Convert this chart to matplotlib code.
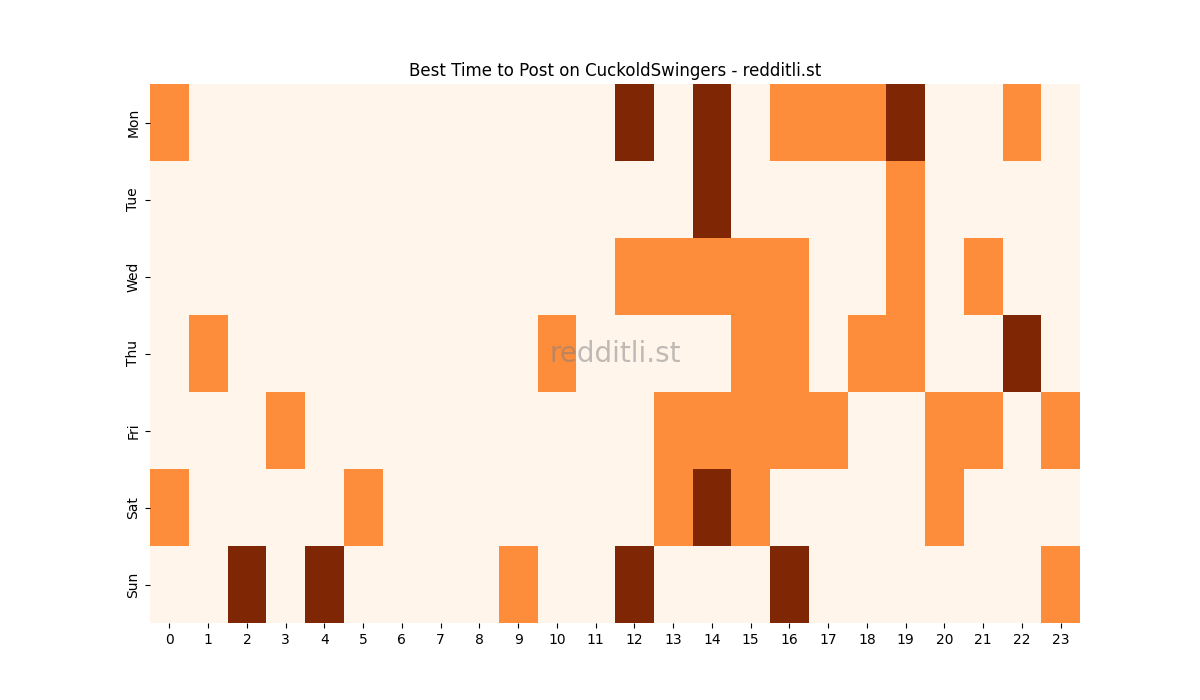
import matplotlib
matplotlib.use('Agg')
import matplotlib.pyplot as plt
import seaborn as sns
import pandas as pd

days = ['Mon', 'Tue', 'Wed', 'Thu', 'Fri', 'Sat', 'Sun']
hours = list(range(24))

# 0 = quiet, 1 = good, 2 = best
mon = [1, 0, 0, 0, 0, 0, 0, 0, 0, 0, 0, 0, 2, 0, 2, 0, 1, 1, 1, 2, 0, 0, 1, 0]
tue = [0, 0, 0, 0, 0, 0, 0, 0, 0, 0, 0, 0, 0, 0, 2, 0, 0, 0, 0, 1, 0, 0, 0, 0]
wed = [0, 0, 0, 0, 0, 0, 0, 0, 0, 0, 0, 0, 1, 1, 1, 1, 1, 0, 0, 1, 0, 1, 0, 0]
thu = [0, 1, 0, 0, 0, 0, 0, 0, 0, 0, 1, 0, 0, 0, 0, 1, 1, 0, 1, 1, 0, 0, 2, 0]
fri = [0, 0, 0, 1, 0, 0, 0, 0, 0, 0, 0, 0, 0, 1, 1, 1, 1, 1, 0, 0, 1, 1, 0, 1]
sat = [1, 0, 0, 0, 0, 1, 0, 0, 0, 0, 0, 0, 0, 1, 2, 1, 0, 0, 0, 0, 1, 0, 0, 0]
sun = [0, 0, 2, 0, 2, 0, 0, 0, 0, 1, 0, 0, 2, 0, 0, 0, 2, 0, 0, 0, 0, 0, 0, 1]

df = pd.DataFrame([mon, tue, wed, thu, fri, sat, sun], index=days, columns=hours)

fig, ax = plt.subplots(figsize=(12, 7), dpi=100)
sns.heatmap(df, cmap='Oranges', cbar=False, vmin=0, vmax=2, ax=ax)
ax.set_title('Best Time to Post on CuckoldSwingers - redditli.st')
ax.set_xlabel('')
ax.set_ylabel('')
ax.tick_params(axis='x', rotation=0)
ax.text(0.5, 0.5, 'redditli.st', transform=ax.transAxes, fontsize=20,
        color='gray', alpha=0.5, ha='center', va='center')

fig.savefig('out.png')
